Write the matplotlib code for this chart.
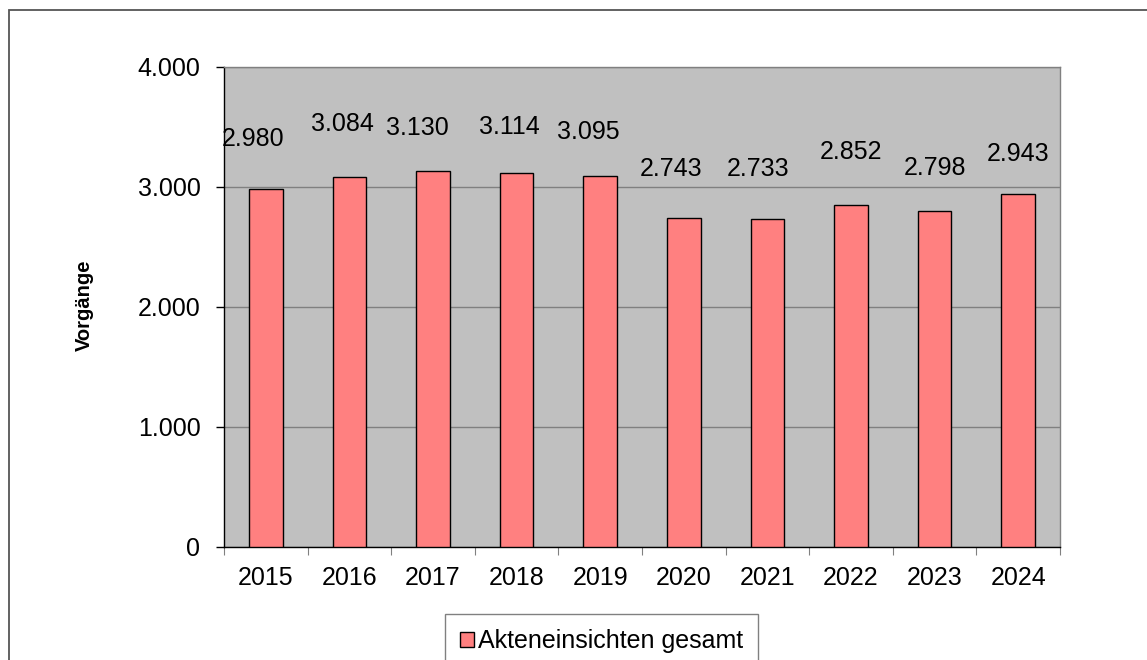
import matplotlib
matplotlib.use("Agg")
import matplotlib.pyplot as plt
from matplotlib.patches import Rectangle
from matplotlib.ticker import FuncFormatter

# ---- data ----
years = ["2015", "2016", "2017", "2018", "2019", "2020", "2021", "2022", "2023", "2024"]
values = [2980, 3084, 3130, 3114, 3095, 2743, 2733, 2852, 2798, 2943]
series_name = "Akteneinsichten gesamt"
y_label = "Vorgänge"
y_ticks = [0, 1000, 2000, 3000, 4000]

# ---- style: data-label offsets relative to bar top (pixels) ----
label_dx_px = [-13, -7, -16, -7, -11.5, -13, -9, 0, 0, 0]
label_dy_px = [50.4, 52.9, 43.4, 46.3, 43.6, 48.8, 50, 52.8, 43.2, 39.8]


def de_fmt(v):
    return f"{int(round(v)):,}".replace(",", ".")


plt.rcParams['font.family'] = ['Liberation Sans', 'DejaVu Sans']
W, H = 1147, 660
FS = 18
fig = plt.figure(figsize=(W / 100, H / 100), dpi=100)
fig.patch.set_facecolor('white')

L, R, T, B = 224, 1060, 67, 547
ax = fig.add_axes([L / W, 1 - B / H, (R - L) / W, (B - T) / H])
ax.set_facecolor('#C0C0C0')

x = list(range(len(years)))
bars = ax.bar(x, values, width=0.4, color='#FF8080', edgecolor='black',
              linewidth=1.0, label=series_name, zorder=3)

ax.set_xlim(-0.5, len(years) - 0.5)
ax.set_ylim(y_ticks[0], y_ticks[-1])
ax.set_yticks(y_ticks)
ax.yaxis.set_major_formatter(FuncFormatter(lambda v, p: de_fmt(v)))
ax.grid(axis='y', color='#808080', linewidth=1.0, zorder=1)
ax.set_axisbelow(True)

# x: boundary ticks (major, no labels), labels at centers (minor, no tick)
ax.set_xticks([i - 0.5 for i in range(len(years) + 1)])
ax.set_xticklabels([])
ax.set_xticks(x, minor=True)
ax.set_xticklabels(years, minor=True)
ax.tick_params(axis='x', which='major', length=5.5, width=0.8, color='#808080')
ax.tick_params(axis='x', which='minor', length=0, pad=13.5, labelsize=FS)
ax.tick_params(axis='y', length=6, width=1.0, color='black', pad=11, labelsize=FS)

for side in ('left', 'bottom'):
    ax.spines[side].set_color('black')
    ax.spines[side].set_linewidth(1.0)
for side in ('top', 'right'):
    ax.spines[side].set_color('#808080')
    ax.spines[side].set_linewidth(1.0)

for xi, v, dx, dy in zip(x, values, label_dx_px, label_dy_px):
    ax.annotate(de_fmt(v), xy=(xi, v), xytext=(dx * 0.72, dy * 0.72),
                textcoords='offset points', ha='center', va='center',
                fontsize=FS, color='black', zorder=4)

fig.text(84 / W, 1 - 305 / H, y_label, rotation=90, ha='center', va='center',
         fontsize=14.5, fontweight='bold')

# outer chart border (top and left visible, rest beyond the canvas)
fig.add_artist(Rectangle((9 / W, -0.1), 1.2, (1 - 10 / H) + 0.1,
                         transform=fig.transFigure, fill=False,
                         edgecolor='#555555', linewidth=1.3))

leg = fig.legend(handles=[bars], labels=[series_name], loc='upper left',
                 bbox_to_anchor=(445 / W, 1 - 614 / H), bbox_transform=fig.transFigure,
                 borderaxespad=0, frameon=True, fancybox=False, framealpha=1,
                 edgecolor='#808080', fontsize=FS, handlelength=0.56,
                 handleheight=0.56, handletextpad=0.17, borderpad=0.6)
leg.get_frame().set_linewidth(1.0)

fig.savefig("out.png", dpi=100)
